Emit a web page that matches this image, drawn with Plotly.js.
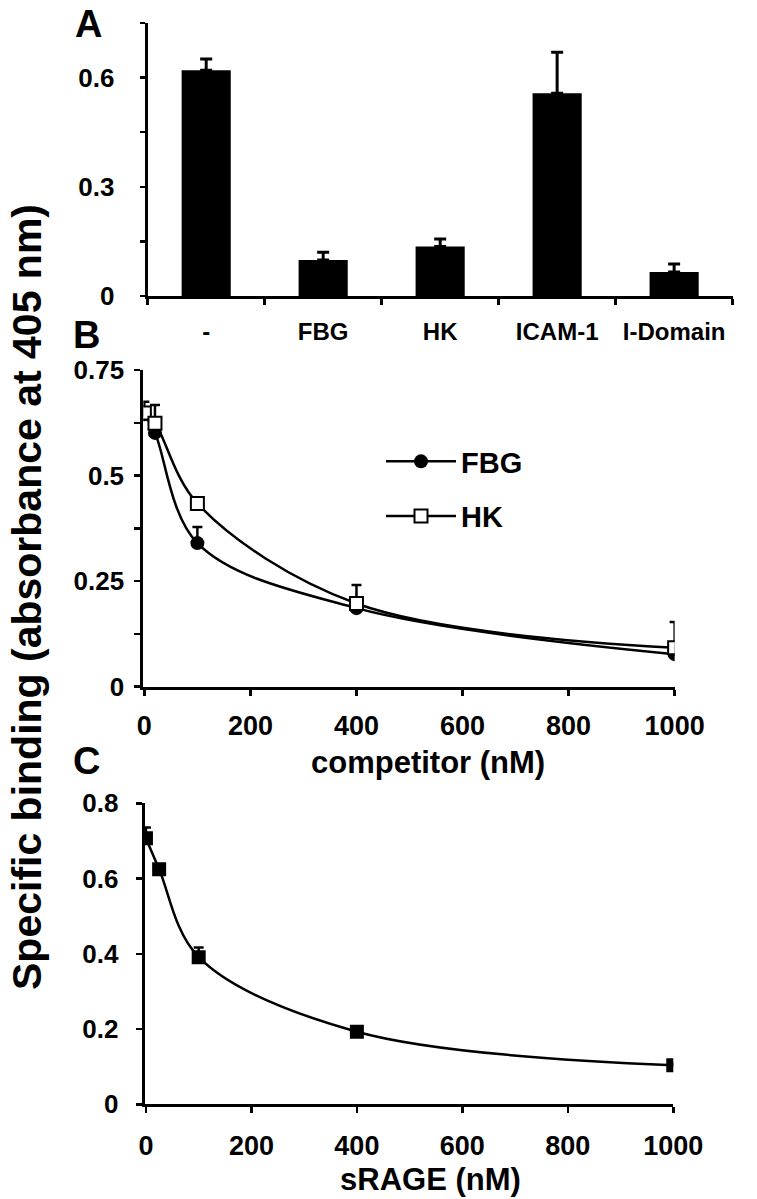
<!DOCTYPE html>
<html>
<head>
<meta charset="utf-8">
<script src="https://cdn.plot.ly/plotly-3.0.1.min.js"></script>
<style>html,body{margin:0;padding:0;background:#fff;}#chart{width:757px;height:1199px;}</style>
</head>
<body>
<div id="chart"></div>
<script>
// Panel A
const catsA = ["-", "FBG", "HK", "ICAM-1", "I-Domain"];
const valsA = [0.620, 0.099, 0.136, 0.557, 0.066];
const errA  = [0.031, 0.021, 0.021, 0.113, 0.022];
const tickValsA = [0, 0.15, 0.3, 0.45, 0.6, 0.75];
const tickTextA = ["0", "", "0.3", "", "0.6", ""];

// Panel B
const concB = [0, 20, 100, 400, 1000];
const fbgB  = [0.645, 0.601, 0.340, 0.186, 0.077];
const fbgErrB = [0.010, 0.010, 0.038, 0.008, 0.006];
const hkB   = [0.648, 0.624, 0.434, 0.197, 0.092];
const hkErrB  = [0.027, 0.043, 0.008, 0.044, 0.061];
const tickValsB = [0, 0.125, 0.25, 0.375, 0.5, 0.625, 0.75];
const tickTextB = ["0", "", "0.25", "", "0.5", "", "0.75"];

// Panel C
const concC = [0, 25, 100, 400, 1000];
const sragC = [0.707, 0.625, 0.391, 0.193, 0.104];
const sragErrC = [0.029, 0.008, 0.026, 0.008, 0.005];
const tickValsC = [0, 0.2, 0.4, 0.6, 0.8];
const tickTextC = ["0", "0.2", "0.4", "0.6", "0.8"];

const xTicks = [0, 200, 400, 600, 800, 1000];

const FF = "Liberation Sans, Arial, Helvetica, sans-serif";
const tickFont = {family: FF, size: 26, color: "#000", weight: 700};

const traces = [
  {type: "bar", x: catsA, y: valsA, xaxis: "x", yaxis: "y",
   marker: {color: "#000"}, showlegend: false,
   error_y: {type: "data", symmetric: false, array: errA, arrayminus: errA.map(() => 0),
             color: "#000", thickness: 3, width: 6}},
  {type: "scatter", mode: "lines+markers", name: "FBG", x: concB, y: fbgB, xaxis: "x2", yaxis: "y2",
   legendgroup: "g1",
   line: {color: "#000", width: 2.5, shape: "spline", smoothing: 1},
   marker: {symbol: "circle", size: 14, color: "#000"},
   error_y: {type: "data", symmetric: false, array: fbgErrB, arrayminus: fbgErrB.map(() => 0),
             color: "#000", thickness: 2.5, width: 5}},
  {type: "scatter", mode: "lines+markers", name: "HK", x: concB, y: hkB, xaxis: "x2", yaxis: "y2",
   legendgroup: "g2",
   line: {color: "#000", width: 2.5, shape: "spline", smoothing: 1},
   marker: {symbol: "square", size: 13, color: "#fff", line: {color: "#000", width: 2}},
   error_y: {type: "data", symmetric: false, array: hkErrB, arrayminus: hkErrB.map(() => 0),
             color: "#000", thickness: 2.5, width: 5}},
  {type: "scatter", mode: "lines+markers", name: "sRAGE", x: concC, y: sragC, xaxis: "x3", yaxis: "y3",
   showlegend: false,
   line: {color: "#000", width: 2.5, shape: "spline", smoothing: 1},
   marker: {symbol: "square", size: 14, color: "#000"},
   error_y: {type: "data", symmetric: false, array: sragErrC, arrayminus: sragErrC.map(() => 0),
             color: "#000", thickness: 2.5, width: 5}}
];

const axBase = {showline: true, linecolor: "#000", linewidth: 3, showgrid: false, zeroline: false,
  ticks: "outside", tickcolor: "#000", tickwidth: 2.5, ticklen: 6, tickfont: tickFont, fixedrange: true};
const xTickFont = {family: FF, size: 27, color: "#000", weight: 700};

const layout = {
  width: 757, height: 1199,
  margin: {l: 0, r: 0, t: 0, b: 0},
  paper_bgcolor: "#fff", plot_bgcolor: "#fff",
  bargap: 0.58,
  font: {family: FF, color: "#000"},
  xaxis: Object.assign({}, axBase, {domain: [0.1951, 0.9678], anchor: "y", type: "category",
    tickson: "boundaries", ticklen: 6, ticklabelstandoff: 12,
    tickfont: {family: FF, size: 24, color: "#000", weight: 700}}),
  yaxis: Object.assign({}, axBase, {domain: [0.7531, 0.9808], anchor: "x", range: [0, 0.75],
    tickvals: tickValsA, ticktext: tickTextA, ticklen: 5, ticklabelstandoff: 20}),
  xaxis2: Object.assign({}, axBase, {domain: [0.1893, 0.8912], anchor: "y2", range: [-2, 1000],
    tickvals: xTicks, ticklabelstandoff: 7, tickfont: xTickFont}),
  yaxis2: Object.assign({}, axBase, {domain: [0.4273, 0.6914], anchor: "x2", range: [0, 0.75],
    tickvals: tickValsB, ticktext: tickTextB, ticklabelstandoff: 5}),
  xaxis3: Object.assign({}, axBase, {domain: [0.1910, 0.8894], anchor: "y3", range: [-2.6, 1000],
    tickvals: xTicks, ticklabelstandoff: 9, tickfont: xTickFont}),
  yaxis3: Object.assign({}, axBase, {domain: [0.079, 0.330], anchor: "x3", range: [0, 0.8],
    tickvals: tickValsC, ticktext: tickTextC, ticklabelstandoff: 12}),
  showlegend: true,
  legend: {x: 381/757, y: (1199 - 436)/1199, xanchor: "left", yanchor: "top",
    bgcolor: "rgba(0,0,0,0)", font: {family: FF, size: 29, color: "#000", weight: 700},
    tracegroupgap: 14, itemwidth: 70},
  annotations: [
    {text: "A", xref: "paper", yref: "paper", x: 73/757, y: (1199 - 1)/1199, xanchor: "left", yanchor: "top",
     showarrow: false, font: {family: FF, size: 38, weight: 700, color: "#000"}},
    {text: "B", xref: "paper", yref: "paper", x: 71/757, y: (1199 - 312)/1199, xanchor: "left", yanchor: "top",
     showarrow: false, font: {family: FF, size: 38, weight: 700, color: "#000"}},
    {text: "C", xref: "paper", yref: "paper", x: 71/757, y: (1199 - 738)/1199, xanchor: "left", yanchor: "top",
     showarrow: false, font: {family: FF, size: 38, weight: 700, color: "#000"}},
    {text: "competitor (nM)", xref: "paper", yref: "paper", x: 428/757, y: (1199 - 762)/1199,
     xanchor: "center", yanchor: "middle", showarrow: false,
     font: {family: FF, size: 31, weight: 700, color: "#000"}},
    {text: "sRAGE (nM)", xref: "paper", yref: "paper", x: 430/757, y: (1199 - 1179)/1199,
     xanchor: "center", yanchor: "middle", showarrow: false,
     font: {family: FF, size: 31, weight: 700, color: "#000"}},
    {text: "Specific binding (absorbance at 405 nm)", xref: "paper", yref: "paper",
     x: 27/757, y: (1199 - 597)/1199, xanchor: "center", yanchor: "middle", textangle: -90,
     showarrow: false, font: {family: FF, size: 41, weight: 700, color: "#000"}}
  ]
};

Plotly.newPlot("chart", traces, layout, {displayModeBar: false, staticPlot: true});
</script>
</body>
</html>
